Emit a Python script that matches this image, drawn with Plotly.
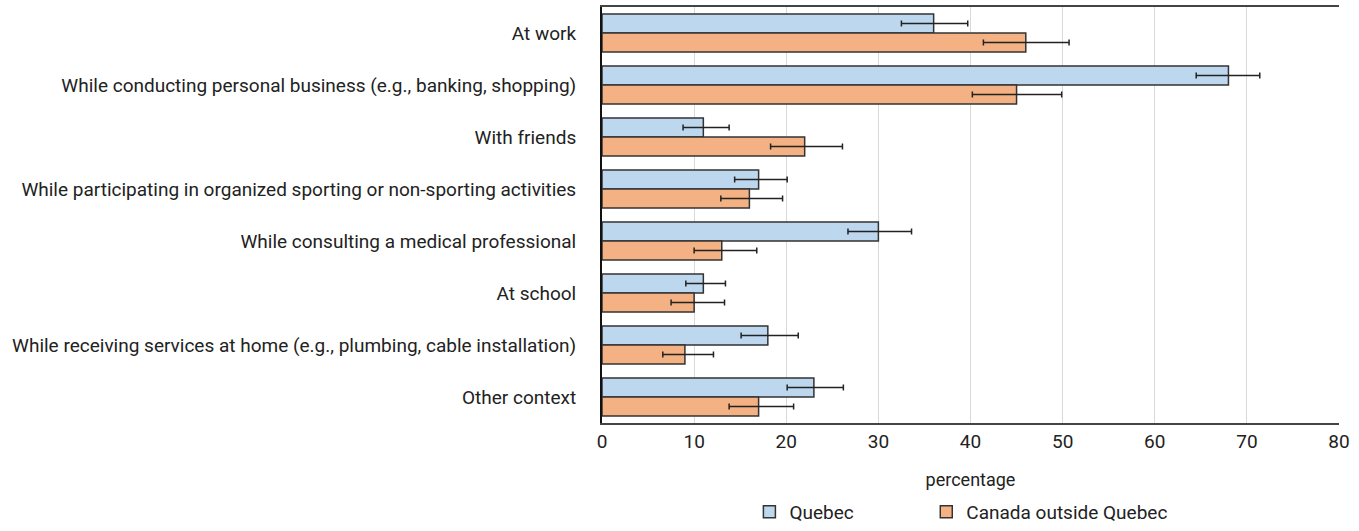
import plotly.graph_objects as go

contexts = [
    "At work",
    "While conducting personal business (e.g., banking, shopping)",
    "With friends",
    "While participating in organized sporting or non-sporting activities",
    "While consulting a medical professional",
    "At school",
    "While receiving services at home (e.g., plumbing, cable installation)",
    "Other context",
]

quebec = [36, 68, 11, 17, 30, 11, 18, 23]
quebec_err_plus = [3.7, 3.4, 2.8, 3.1, 3.6, 2.4, 3.3, 3.2]
quebec_err_minus = [3.5, 3.5, 2.2, 2.6, 3.3, 1.9, 2.9, 2.9]

canada = [46, 45, 22, 16, 13, 10, 9, 17]
canada_err_plus = [4.7, 4.9, 4.1, 3.6, 3.8, 3.3, 3.1, 3.8]
canada_err_minus = [4.6, 4.8, 3.7, 3.1, 3.0, 2.5, 2.4, 3.2]

FONT = "Roboto, sans-serif"
TEXT = "#222222"

fig = go.Figure()

fig.add_trace(go.Bar(
    name="Quebec", y=contexts, x=quebec, orientation="h",
    legend="legend", showlegend=True,
    marker=dict(color="#BDD7EE", line=dict(color="#333333", width=1.5)),
    error_x=dict(type="data", symmetric=False, array=quebec_err_plus,
                 arrayminus=quebec_err_minus, color="#222222",
                 thickness=1.5, width=3),
))
fig.add_trace(go.Bar(
    name="Canada outside Quebec", y=contexts, x=canada, orientation="h",
    legend="legend2", showlegend=True,
    marker=dict(color="#F4B183", line=dict(color="#333333", width=1.5)),
    error_x=dict(type="data", symmetric=False, array=canada_err_plus,
                 arrayminus=canada_err_minus, color="#222222",
                 thickness=1.5, width=3),
))

legend_common = dict(orientation="h", xanchor="left", yref="container",
                     y=0.036, yanchor="middle", itemwidth=30,
                     font=dict(size=19))

fig.update_layout(
    width=1359, height=531,
    barmode="group", bargap=0.27, bargroupgap=0,
    plot_bgcolor="white", paper_bgcolor="white",
    font=dict(family=FONT, size=19, color=TEXT),
    margin=dict(l=602, r=20, t=7, b=108),
    legend=dict(x=0.2, **legend_common),
    legend2=dict(x=0.44, **legend_common),
    xaxis=dict(
        range=[0, 80], dtick=10, showgrid=True, gridcolor="#d9d9d9",
        gridwidth=1, zeroline=False, showline=True, linecolor="#444444",
        linewidth=1.5, mirror=True, ticks="", automargin=False,
        title=dict(text="percentage", standoff=22, font=dict(size=18)),
    ),
    yaxis=dict(
        autorange="reversed", showline=True, linecolor="#111111",
        linewidth=2, ticks="", ticklabelstandoff=20, automargin=False,
    ),
)

fig.write_html("out.html", config={"displayModeBar": False},
               post_script="document.body.style.margin='0';")
